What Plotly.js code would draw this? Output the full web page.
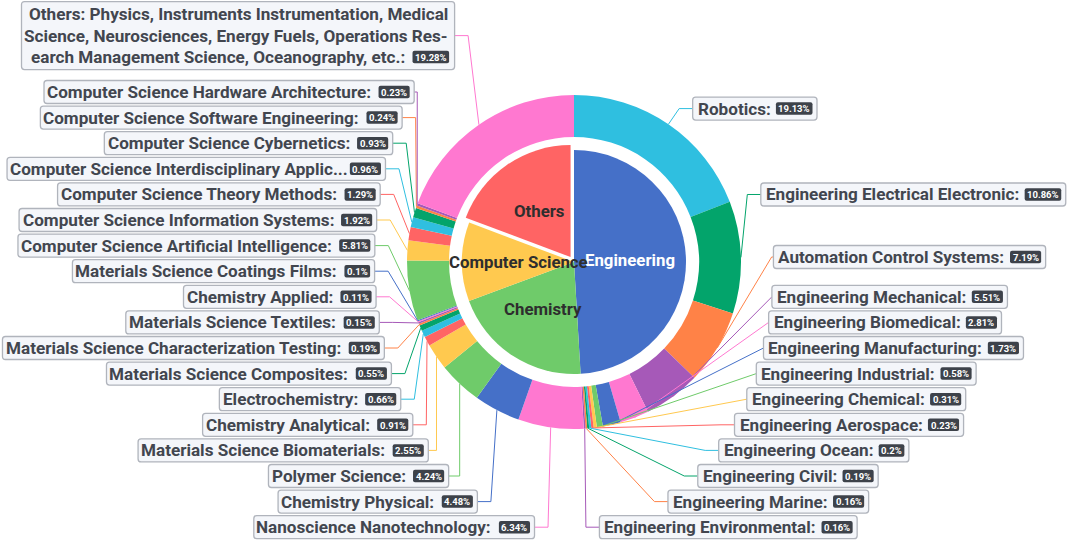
<!DOCTYPE html>
<html><head><meta charset="utf-8">
<script src="https://cdn.plot.ly/plotly-3.0.1.min.js"></script>
<style>html,body{margin:0;padding:0;background:#fff;}#chart{width:1072px;height:540px;}</style>
</head><body><div id="chart"></div>
<script>
// ---------------- data ----------------
const groupNames = ['Engineering', 'Chemistry', 'Computer Science', 'Others'];
const groupValues = [49.06, 20.28, 11.38, 19.28];

const fieldNames = [
  'Robotics', 'Engineering Electrical Electronic', 'Automation Control Systems', 'Engineering Mechanical',
  'Engineering Biomedical', 'Engineering Manufacturing', 'Engineering Industrial', 'Engineering Chemical',
  'Engineering Aerospace', 'Engineering Ocean', 'Engineering Civil', 'Engineering Marine', 'Engineering Environmental',
  'Nanoscience Nanotechnology', 'Chemistry Physical', 'Polymer Science', 'Materials Science Biomaterials',
  'Chemistry Analytical', 'Electrochemistry', 'Materials Science Composites', 'Materials Science Characterization Testing',
  'Materials Science Textiles', 'Chemistry Applied', 'Materials Science Coatings Films',
  'Computer Science Artificial Intelligence', 'Computer Science Information Systems', 'Computer Science Theory Methods',
  'Computer Science Interdisciplinary Applications', 'Computer Science Cybernetics', 'Computer Science Software Engineering',
  'Computer Science Hardware Architecture',
  'Others: Physics, Instruments Instrumentation, Medical Science, Neurosciences, Energy Fuels, Operations Research Management Science, Oceanography, etc.'
];
const fieldValues = [
  19.13, 10.86, 7.19, 5.51, 2.81, 1.73, 0.58, 0.31, 0.23, 0.2, 0.19, 0.16, 0.16,
  6.34, 4.48, 4.24, 2.55, 0.91, 0.66, 0.55, 0.19, 0.15, 0.11, 0.1,
  5.81, 1.92, 1.29, 0.96, 0.93, 0.24, 0.23,
  19.28
];
// wrapped display of the long last label
const othersLabelLines = [
  'Others: Physics, Instruments Instrumentation, Medical',
  'Science, Neurosciences, Energy Fuels, Operations Res-',
  'earch Management Science, Oceanography, etc.'
];

// ---------------- style / geometry ----------------
const W = 1072, H = 540;
const CX = 574, CY = 262, R_OUT = 167, R_HOLE = 125, R_IN = 112, PULL_PX = 6;
const LEN1 = 19, LEN2 = 13.5, RA = R_OUT + LEN1;
const ROW_H = 25.6, BOX_H = 23, MULTI_ROW_H = 71, MULTI_BOX_H = 68, LINE_STEP = 21.5;
const PAD_L = 4, PAD_R = 4.5, GAP = 6.5, BADGE_H = 12.5, BADGE_PAD = 2.5, LEFT_LIMIT = -3;
const palette = ['#4570c8', '#6fcb6a', '#ffc94f', '#ff6464', '#2fbfe0', '#03a46b', '#ff8247', '#a659b8', '#ff78d0'];
const TEXT_COLOR = '#42464f', BOX_FILL = '#f4f6fa', BOX_LINE = '#b0b4bc', BADGE_FILL = '#3d424a';
const FONT = 'Roboto';

const ctx = document.createElement('canvas').getContext('2d');
function measure(t, size, weight) { ctx.font = (weight || 'bold') + ' ' + size + 'px ' + FONT; return ctx.measureText(t).width; }
let FS = 18 * 336 / measure('Materials Science Characterization Testing:', 18);
FS = Math.max(15, Math.min(19.5, FS));
const BADGE_FS = 9.5, INNER_FS = 16.8;

const PX = x => x / W, PY = y => 1 - y / H;

// ---------------- label layout (pie outer labels) ----------------
const total = fieldValues.reduce((a, b) => a + b, 0);
let cum = 0;
const items = fieldValues.map((v, i) => {
  const mid = (cum + v / 2) / total * 2 * Math.PI; cum += v;
  const ux = Math.sin(mid), uy = -Math.cos(mid);
  const multi = (i === fieldValues.length - 1);
  const h = multi ? MULTI_ROW_H : ROW_H;
  const y = CY + RA * uy;
  return { i, v, ux, uy, dir: ux < 0 ? -1 : 1, multi, h, y, ry: y - h / 2, ex: CX + RA * ux,
           color: palette[(i + groupNames.length) % palette.length] };
});

function shiftLayoutOnY(list, top, bottom) {
  const len = list.length; if (len < 2) return false;
  list.sort((a, b) => a.ry - b.ry);
  let lastPos = 0, adjusted = false;
  for (const it of list) { const d = it.ry - lastPos; if (d < 0) { it.ry -= d; adjusted = true; } lastPos = it.ry + it.h; }
  const first = list[0], last = list[len - 1];
  let minGap, maxGap;
  const upd = () => { minGap = first.ry - top; maxGap = bottom - last.ry - last.h; };
  const shiftList = (d, s, e) => { if (d !== 0) adjusted = true; for (let k = s; k < e; k++) list[k].ry += d; };
  const squeezeGaps = (delta, maxP) => {
    const gaps = []; let tg = 0;
    for (let k = 1; k < len; k++) { const g = Math.max(list[k].ry - list[k - 1].ry - list[k - 1].h, 0); gaps.push(g); tg += g; }
    if (!tg) return;
    const p = Math.min(Math.abs(delta) / tg, maxP);
    if (delta > 0) { for (let k = 0; k < len - 1; k++) shiftList(gaps[k] * p, 0, k + 1); }
    else { for (let k = len - 1; k > 0; k--) shiftList(-gaps[k - 1] * p, k, len); }
  };
  const takeBoundsGap = (g, other, d) => {
    if (g < 0) {
      const m = Math.min(other, -g);
      if (m > 0) { shiftList(m * d, 0, len); const rem = m + g; if (rem < 0) squeezeGaps(-rem * d, 1); }
      else squeezeGaps(-g * d, 1);
    }
  };
  upd();
  if (minGap < 0) squeezeGaps(-minGap, 0.8);
  if (maxGap < 0) squeezeGaps(maxGap, 0.8);
  upd();
  takeBoundsGap(minGap, maxGap, 1);
  takeBoundsGap(maxGap, minGap, -1);
  return adjusted;
}

function recalcX(list, dir) {
  const semis = [{ list: [], maxY: 0, rB: RA }, { list: [], maxY: 0, rB: RA }];
  for (const it of list) {
    const s = it.y > CY ? semis[1] : semis[0];
    const dy = Math.abs(it.y - CY);
    if (dy >= s.maxY) {
      const dx = it.ex - CX;
      s.rB = Math.abs(dx) < RA ? Math.sqrt(dy * dy / (1 - dx * dx / (RA * RA))) : RA;
      s.maxY = dy;
    }
    s.list.push(it);
  }
  for (const s of semis) for (const it of s.list) {
    const dy = Math.abs(it.y - CY);
    const q = Math.max(0, 1 - dy * dy / (s.rB * s.rB));
    it.ex = CX + dir * RA * Math.sqrt(q);
  }
}

[-1, 1].forEach(dir => {
  const side = items.filter(it => it.dir === dir);
  const adj = shiftLayoutOnY(side, 0, H);
  side.forEach(it => { it.y = it.ry + it.h / 2; });
  if (adj) recalcX(side, dir);
});

function project(x1, y1, x2, y2, x, y) {
  const dx = x2 - x1, dy = y2 - y1, l2 = dx * dx + dy * dy;
  const t = ((x - x1) * dx + (y - y1) * dy) / l2;
  const px = x1 + t * dx, py = y1 + t * dy;
  return { px, py, d: Math.hypot(x - px, y - py) };
}
function clampSet(p, x, y) {
  const p1 = p[1], p2 = p[2];
  const t = p2[0] !== p1[0] ? (x - p1[0]) / (p2[0] - p1[0]) : (y - p1[1]) / (p2[1] - p1[1]);
  if (isNaN(t)) return;
  if (t < 0) { x = p1[0]; y = p1[1]; } else if (t > 1) { x = p2[0]; y = p2[1]; }
  p[1] = [x, y];
}
function limitTurn(p) {
  const [p0, p1, p2] = p;
  let a = [p0[0] - p1[0], p0[1] - p1[1]], b = [p2[0] - p1[0], p2[1] - p1[1]];
  const la = Math.hypot(a[0], a[1]), lb = Math.hypot(b[0], b[1]);
  if (la < 1e-3 || lb < 1e-3) return;
  const c = (a[0] * b[0] + a[1] * b[1]) / la / lb;
  if (c > Math.cos(Math.PI / 2)) { const pr = project(p1[0], p1[1], p2[0], p2[1], p0[0], p0[1]); clampSet(p, pr.px, pr.py); }
}
function limitSurface(p, n) {
  const [p0, p1, p2] = p;
  let a = [p1[0] - p0[0], p1[1] - p0[1]], b = [p2[0] - p1[0], p2[1] - p1[1]];
  const la = Math.hypot(a[0], a[1]), lb = Math.hypot(b[0], b[1]);
  if (la < 1e-3 || lb < 1e-3) return;
  a = [a[0] / la, a[1] / la]; b = [b[0] / lb, b[1] / lb];
  if (a[0] * n[0] + a[1] * n[1] < Math.cos(Math.PI / 2)) {
    const pr = project(p1[0], p1[1], p2[0], p2[1], p0[0], p0[1]);
    const ang = Math.acos(Math.max(-1, Math.min(1, b[0] * n[0] + b[1] * n[1])));
    if (ang >= Math.PI / 2) { p[1] = [p2[0], p2[1]]; }
    else { const k = pr.d / Math.tan(Math.PI / 2 - ang); clampSet(p, pr.px + b[0] * k, pr.py + b[1] * k); }
  }
}

// ---------------- build shapes & annotations ----------------
function rrect(x0, y0, x1, y1, r) {
  return 'M' + PX(x0 + r) + ',' + PY(y0) + ' L' + PX(x1 - r) + ',' + PY(y0) +
    ' Q' + PX(x1) + ',' + PY(y0) + ' ' + PX(x1) + ',' + PY(y0 + r) +
    ' L' + PX(x1) + ',' + PY(y1 - r) + ' Q' + PX(x1) + ',' + PY(y1) + ' ' + PX(x1 - r) + ',' + PY(y1) +
    ' L' + PX(x0 + r) + ',' + PY(y1) + ' Q' + PX(x0) + ',' + PY(y1) + ' ' + PX(x0) + ',' + PY(y1 - r) +
    ' L' + PX(x0) + ',' + PY(y0 + r) + ' Q' + PX(x0) + ',' + PY(y0) + ' ' + PX(x0 + r) + ',' + PY(y0) + ' Z';
}
const lineShapes = [], boxShapes = [], annotations = [];
function textAnn(x, y, text, anchor, size, color) {
  annotations.push({ xref: 'paper', yref: 'paper', x: PX(x), y: PY(y), xanchor: anchor, yanchor: 'middle',
    text: '<b>' + text + '</b>', showarrow: false, borderpad: 0,
    font: { family: FONT, size: size, color: color } });
}
function badge(x0, y, txt) {
  const bw = measure(txt, BADGE_FS) + 2 * BADGE_PAD;
  boxShapes.push({ type: 'path', xref: 'paper', yref: 'paper', path: rrect(x0, y - BADGE_H / 2, x0 + bw, y + BADGE_H / 2, 2),
    fillcolor: BADGE_FILL, line: { width: 0 } });
  textAnn(x0 + bw / 2, y + 0.3, txt, 'center', BADGE_FS, '#ffffff');
  return bw;
}

items.forEach(it => {
  const badgeTxt = it.v + '%';
  const bw = measure(badgeTxt, BADGE_FS) + 2 * BADGE_PAD;
  const edgeX = it.ex + it.dir * LEN2;
  let bx0, bx1, by0, by1;
  if (!it.multi) {
    let name = fieldNames[it.i] + ':';
    let gap = GAP;
    let tw = measure(name, FS);
    if (it.dir > 0) {
      bx0 = edgeX;
      const tx = bx0 + PAD_L;
      textAnn(tx, it.y, name, 'left', FS, TEXT_COLOR);
      badge(tx + tw + gap, it.y, badgeTxt);
      bx1 = tx + tw + gap + bw + PAD_R;
    } else {
      bx1 = edgeX;
      const bStart = bx1 - PAD_R - bw;
      if (bStart - gap - tw - PAD_L < LEFT_LIMIT) {
        gap = 1;
        const base = fieldNames[it.i];
        for (let k = base.length; k > 0; k--) {
          const t = base.slice(0, k) + '...';
          if (bStart - gap - measure(t, FS) - PAD_L >= LEFT_LIMIT + 2) { name = t; break; }
        }
        tw = measure(name, FS);
      }
      textAnn(bStart - gap, it.y, name, 'right', FS, TEXT_COLOR);
      badge(bStart, it.y, badgeTxt);
      bx0 = Math.max(1, bStart - gap - tw - PAD_L);
    }
    by0 = it.y - BOX_H / 2; by1 = it.y + BOX_H / 2;
  } else {
    bx1 = edgeX;
    const right = bx1 - PAD_R - 1;
    const ys = [it.y - LINE_STEP, it.y, it.y + LINE_STEP];
    let minX = Infinity;
    for (let k = 0; k < 2; k++) {
      textAnn(right, ys[k], othersLabelLines[k], 'right', FS, TEXT_COLOR);
      minX = Math.min(minX, right - measure(othersLabelLines[k], FS));
    }
    const bStart = right - bw;
    const last = othersLabelLines[2] + ':';
    textAnn(bStart - GAP, ys[2], last, 'right', FS, TEXT_COLOR);
    badge(bStart, ys[2], badgeTxt);
    minX = Math.min(minX, bStart - GAP - measure(last, FS));
    bx0 = minX - PAD_L;
    by0 = it.y - MULTI_BOX_H / 2; by1 = it.y + MULTI_BOX_H / 2;
  }
  boxShapes.unshift({ type: 'path', xref: 'paper', yref: 'paper', path: rrect(bx0, by0, bx1, by1, 3),
    fillcolor: BOX_FILL, line: { color: BOX_LINE, width: 1.3 } });
  const pts = [[CX + R_OUT * it.ux, CY + R_OUT * it.uy], [it.ex, it.y], [edgeX, it.y]];
  limitTurn(pts);
  limitSurface(pts, [it.ux, it.uy]);
  lineShapes.push({ type: 'path', xref: 'paper', yref: 'paper',
    path: 'M' + PX(pts[0][0]) + ',' + PY(pts[0][1]) + ' L' + PX(pts[1][0]) + ',' + PY(pts[1][1]) + ' L' + PX(pts[2][0]) + ',' + PY(pts[2][1]),
    line: { color: it.color, width: 1 } });
});

// inner labels
const gTotal = groupValues.reduce((a, b) => a + b, 0);
const pulls = groupNames.map(n => n === 'Others' ? PULL_PX / R_IN : 0);
let gc = 0;
groupValues.forEach((v, i) => {
  const mid = (gc + v / 2) / gTotal * 2 * Math.PI; gc += v;
  const r = R_IN / 2 + pulls[i] * R_IN;
  textAnn(CX + r * Math.sin(mid), CY - r * Math.cos(mid), groupNames[i], 'center', INNER_FS, i === 0 ? '#ffffff' : '#2e2e2e');
});

// ---------------- traces ----------------
const maxPull = Math.max(...pulls);
const inHalf = R_IN * (1 + maxPull);
const data = [
  { type: 'pie', labels: fieldNames, values: fieldValues, sort: false, direction: 'clockwise', rotation: 0,
    hole: R_HOLE / R_OUT, textinfo: 'none', hoverinfo: 'skip',
    marker: { colors: fieldNames.map((_, i) => palette[(i + groupNames.length) % palette.length]), line: { width: 0 } },
    domain: { x: [(CX - R_OUT) / W, (CX + R_OUT) / W], y: [1 - (CY + R_OUT) / H, 1 - (CY - R_OUT) / H] } },
  { type: 'pie', labels: groupNames, values: groupValues, sort: false, direction: 'clockwise', rotation: 0,
    pull: pulls, textinfo: 'none', hoverinfo: 'skip',
    marker: { colors: groupNames.map((_, i) => palette[i]), line: { width: 0 } },
    domain: { x: [(CX - inHalf) / W, (CX + inHalf) / W], y: [1 - (CY + inHalf) / H, 1 - (CY - inHalf) / H] } }
];
const layout = {
  width: W, height: H, margin: { l: 0, r: 0, t: 0, b: 0 }, showlegend: false,
  paper_bgcolor: '#ffffff', plot_bgcolor: '#ffffff',
  shapes: lineShapes.concat(boxShapes), annotations: annotations
};
Plotly.newPlot('chart', data, layout, { staticPlot: true, displayModeBar: false });
</script></body></html>
